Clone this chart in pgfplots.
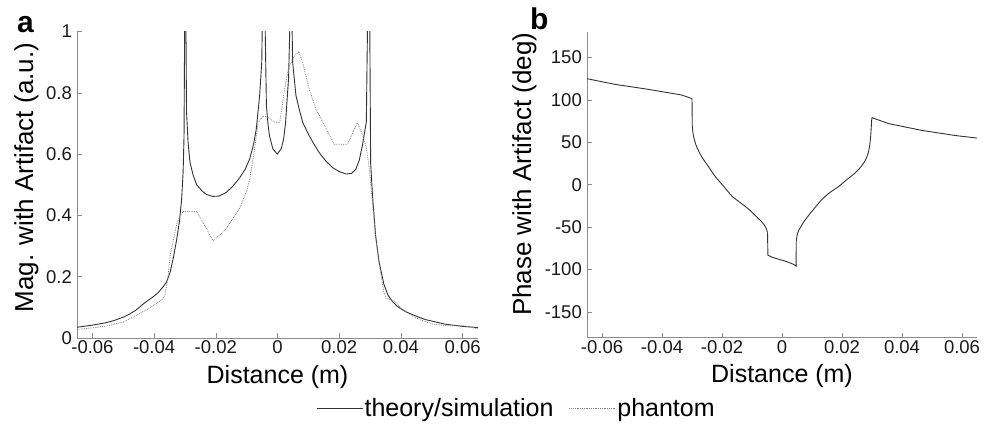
\documentclass[border=0pt]{standalone}
\usepackage{fontspec}
\setmainfont{Liberation Sans}
\usepackage{pgfplots}
\pgfplotsset{compat=1.18}
\definecolor{axgray}{gray}{0.55}
\definecolor{solidc}{gray}{0.2}
\definecolor{dotc}{gray}{0.5}
\pgfplotsset{
  myaxis/.style={
    scale only axis,
    axis x line=bottom, axis y line=left,
    axis line style={-, draw=axgray, line width=0.8pt},
    tick align=inside, major tick length=5pt,
    every tick/.style={draw=axgray, line width=0.6pt},
    xmin=-0.065, xmax=0.065,
    scaled x ticks=false, scaled y ticks=false,
    xtick={-0.06,-0.04,-0.02,0,0.02,0.04,0.06},
    xticklabels={-0.06,-0.04,-0.02,0,0.02,0.04,0.06},
    tick label style={font=\fontsize{18.5}{20}\selectfont, text=black!90},
    xticklabel style={inner sep=0pt, anchor=north, yshift=-2.5pt},
    yticklabel style={inner sep=0pt, anchor=east, xshift=-5pt},
    xlabel style={font=\fontsize{25}{28}\selectfont, at={(axis description cs:0.5,0)}, anchor=base, yshift=-45pt},
    ylabel style={font=\fontsize{26}{28}\selectfont, anchor=base, rotate=0},
  }
}
\begin{document}
\begin{tikzpicture}
\useasboundingbox (0,0) rectangle (984pt,-428pt);
\begin{axis}[myaxis,
  at={(77pt,-338pt)}, anchor=south west,
  width=401pt, height=306.5pt,
  ymin=0, ymax=1,
  ytick={0,0.2,0.4,0.6,0.8,1},
  yticklabels={0,0.2,0.4,0.6,0.8,1},
  xlabel={Distance (m)},
  ylabel={Mag. with Artifact (a.u.)},
  ylabel style={at={(axis description cs:-0.1097,0.523)}},
  legend columns=2,
  legend style={at={(axis description cs:0.596,-0.2284)}, anchor=west,
    draw=none, fill=none, inner sep=0pt, font=\fontsize{25}{28}\selectfont,
    nodes={inner xsep=1.5pt, inner ysep=0pt},
    /tikz/every even column/.append style={column sep=14pt}},
  legend image code/.code={\draw[#1] (0pt,0pt) -- (46pt,0pt);},
]
\addplot[solidc, line width=0.9pt] coordinates {
(-0.065,0.035) (-0.060,0.042) (-0.056,0.049) (-0.053,0.057) (-0.050,0.068) (-0.048,0.078) (-0.046,0.090)
(-0.0434,0.112) (-0.040,0.137) (-0.0385,0.150) (-0.037,0.168) (-0.0360,0.182) (-0.0348,0.215) (-0.0338,0.26)
(-0.0327,0.32) (-0.0318,0.38) (-0.0311,0.45) (-0.0306,0.54) (-0.0303,0.66) (-0.0300,1.2) (-0.0298,1.2)
(-0.0295,0.74) (-0.0290,0.64) (-0.0284,0.575) (-0.0278,0.55) (-0.0273,0.53) (-0.0262,0.50)
(-0.0245,0.48) (-0.023,0.468) (-0.021,0.462) (-0.019,0.463) (-0.0166,0.475)
(-0.0145,0.495) (-0.0123,0.522) (-0.0105,0.55) (-0.009,0.585) (-0.0078,0.63)
(-0.0069,0.68) (-0.0058,0.79) (-0.0051,0.90) (-0.0047,1.2) (-0.0043,1.2)
(-0.0036,0.76) (-0.0031,0.70) (-0.0026,0.66) (-0.0015,0.617) (-0.0001,0.60) (0.0012,0.617)
(0.0020,0.65) (0.0026,0.70) (0.0036,0.85) (0.0042,1.1) (0.0046,1.1) (0.0049,0.9)
(0.0060,0.79) (0.0072,0.74) (0.0082,0.703) (0.010,0.665) (0.0114,0.64)
(0.0135,0.605) (0.0157,0.577) (0.018,0.555) (0.020,0.543) (0.0222,0.535)
(0.024,0.537) (0.0254,0.551) (0.0265,0.58) (0.0275,0.627) (0.0288,0.705)
(0.0294,1.2) (0.0298,1.2) (0.0302,0.57) (0.0308,0.465) (0.0318,0.335)
(0.0329,0.25) (0.0345,0.175) (0.0358,0.14) (0.0372,0.12) (0.039,0.102) (0.0415,0.086) (0.045,0.071) (0.048,0.060)
(0.0544,0.045) (0.060,0.038) (0.065,0.034)
};
\addlegendentry{theory/simulation}
\addplot[dotc, line width=0.8pt, densely dotted] coordinates {
(-0.065,0.028) (-0.060,0.033) (-0.056,0.038) (-0.050,0.052) (-0.0456,0.075)
(-0.042,0.095) (-0.039,0.115) (-0.0372,0.128) (-0.0365,0.14) (-0.0355,0.20)
(-0.0348,0.27) (-0.0327,0.37) (-0.0316,0.40) (-0.0305,0.413) (-0.0262,0.413)
(-0.0235,0.365) (-0.0209,0.318) (-0.0185,0.338) (-0.0166,0.357) (-0.0123,0.422)
(-0.010,0.48) (-0.009,0.519) (-0.0074,0.616) (-0.0063,0.703) (-0.0047,0.724)
(-0.0031,0.72) (-0.001,0.705) (0.0007,0.703) (0.0023,0.811) (0.0037,0.886)
(0.0055,0.919) (0.0069,0.935) (0.0082,0.897) (0.0103,0.811) (0.0125,0.746)
(0.0157,0.685) (0.0184,0.632) (0.0227,0.632) (0.0259,0.703) (0.0275,0.665)
(0.0288,0.62) (0.0298,0.55) (0.0308,0.44) (0.0318,0.33) (0.0329,0.245)
(0.0345,0.15) (0.0352,0.13) (0.038,0.12) (0.040,0.097) (0.0447,0.066)
(0.050,0.046) (0.055,0.040) (0.0605,0.040) (0.065,0.030)
};
\addlegendentry{phantom}
\end{axis}
\begin{axis}[myaxis,
  at={(587pt,-337.5pt)}, anchor=south west,
  width=390pt, height=305.5pt,
  ymin=-180, ymax=180,
  ytick={-150,-100,-50,0,50,100,150},
  yticklabels={-150,-100,-50,0,50,100,150},
  xlabel={Distance (m)},
  ylabel={Phase with Artifact (deg)},
  ylabel style={at={(axis description cs:-0.1436,0.534)}},
]
% left flat part and jump
\addplot[solidc, line width=0.9pt] coordinates {
(-0.065,125) (-0.056,118.5) (-0.0447,112.5) (-0.0335,105.8) (-0.0300,101.5)
(-0.0299,67.8)
};
\addplot[solidc, line width=0.9pt, smooth, tension=0.45] coordinates {
(-0.0299,67.8) (-0.02944,56.2) (-0.02843,44.6) (-0.02674,32.9) (-0.0245,21.3)
(-0.02225,9.7) (-0.01944,-1.9) (-0.01663,-13.6) (-0.01382,-21.3) (-0.01101,-29.1)
(-0.00876,-36.8) (-0.00652,-44.6) (-0.00539,-50.4) (-0.00483,-56.2)
};
\addplot[solidc, line width=0.9pt] coordinates {
(-0.00483,-56.2) (-0.0047,-83) (-0.0033,-85.5) (0.0011,-90) (0.0040,-94) (0.0047,-96)
(0.00475,-66)
};
\addplot[solidc, line width=0.9pt, smooth, tension=0.45] coordinates {
(0.00475,-66) (0.0052,-57) (0.0060,-51) (0.0078,-41) (0.0105,-29)
(0.0133,-17.4) (0.0160,-9) (0.0189,-2) (0.0216,6) (0.0244,14)
(0.0265,22) (0.0278,29) (0.0287,37) (0.0292,46) (0.0295,55)
(0.0297,65) (0.0299,77)
};
\addplot[solidc, line width=0.9pt] coordinates {
(0.0299,77) (0.030,79) (0.0356,72) (0.0467,64) (0.0578,58) (0.065,55)
};
\end{axis}
\node[anchor=base west, font=\bfseries\fontsize{30}{30}\selectfont, inner sep=0pt] at (17pt,-33pt) {a};
\node[anchor=base west, font=\bfseries\fontsize{30}{30}\selectfont, inner sep=0pt] at (530pt,-30pt) {b};
\end{tikzpicture}
\end{document}
